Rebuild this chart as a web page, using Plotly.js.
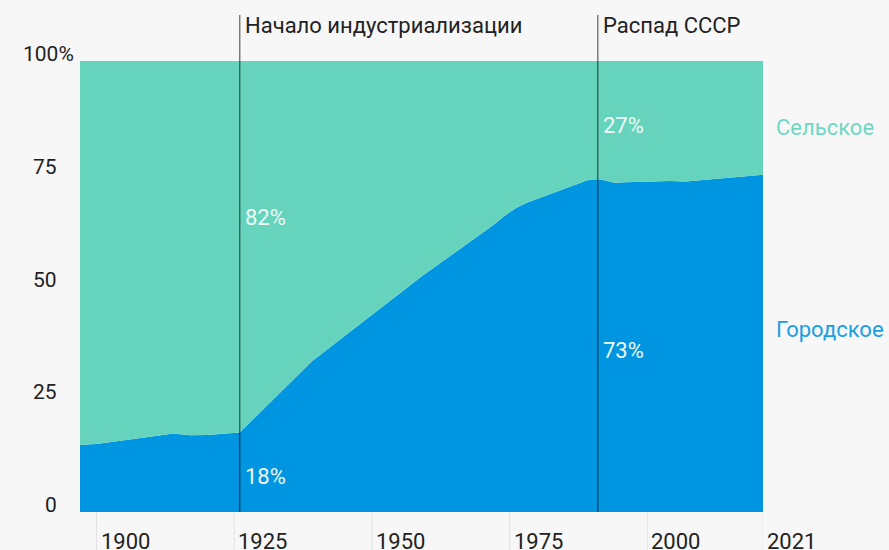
<!DOCTYPE html>
<html>
<head>
<meta charset="utf-8">
<script src="https://cdn.plot.ly/plotly-3.0.1.min.js"></script>
<style>html,body{margin:0;padding:0;background:#f7f7f7;}#chart{width:889px;height:550px;}</style>
</head>
<body>
<div id="chart"></div>
<script>
// Urban share of population, %
const years = [1897, 1900, 1905, 1910, 1914, 1917, 1920, 1926, 1939, 1959, 1965, 1970, 1972, 1974, 1976, 1978, 1980, 1984, 1987, 1989, 1990, 1991, 1992, 1994, 1996, 2000, 2004, 2007, 2010, 2014, 2018, 2021];
const urban = [14.9, 15.1, 15.9, 16.7, 17.4, 17.0, 17.1, 17.6, 33.3, 52.2, 57.4, 61.9, 63.6, 65.6, 67.3, 68.5, 69.4, 71.3, 72.7, 73.5, 73.7, 73.8, 73.6, 73.0, 73.1, 73.2, 73.4, 73.3, 73.6, 74.0, 74.5, 74.8];
const rural = urban.map(v => +(100 - v).toFixed(1));

const xTickVals = [1900, 1925, 1950, 1975, 2000, 2021];
const xTickText = ['1900', '1925', '1950', '1975', '2000', '2021'];
const yTickVals = [0, 25, 50, 75, 100];
const yTickText = ['0', '25', '50', '75', '100%'];

const eventYears = [1926, 1991];
const eventLabels = ['Начало индустриализации', 'Распад СССР'];

const shareLabels = [
  {x: 1926, y: 65.4, text: '82%'},
  {x: 1926, y: 7.9, text: '18%'},
  {x: 1991, y: 85.6, text: '27%'},
  {x: 1991, y: 35.7, text: '73%'}
];
const seriesNames = ['Городское', 'Сельское'];
const seriesLabelY = [40.4, 85.2];

const BLUE = '#0095E0';
const TEAL = '#66D4BD';
const FONT = 'Roboto, "Noto Sans", sans-serif';
const FS = 22;

const traces = [
  {x: years, y: urban, name: seriesNames[0], type: 'scatter', mode: 'lines', stackgroup: 'one',
   line: {width: 0, color: BLUE}, fillcolor: BLUE, hoverinfo: 'skip'},
  {x: years, y: rural, name: seriesNames[1], type: 'scatter', mode: 'lines', stackgroup: 'one',
   line: {width: 0, color: TEAL}, fillcolor: TEAL, hoverinfo: 'skip'}
];

const annotations = [];
// y tick labels
yTickVals.forEach((v, i) => {
  const t = yTickText[i];
  annotations.push({xref: 'paper', yref: 'y', x: t.endsWith('%') ? -0.006 : -0.031, y: v,
    text: t, showarrow: false, xanchor: 'right', yanchor: 'middle', yshift: 7,
    font: {family: FONT, size: 21, color: '#222'}});
});
// x tick labels
xTickVals.forEach((v, i) => {
  annotations.push({xref: 'x', yref: 'paper', x: v, y: -0.066, text: xTickText[i], showarrow: false,
    xanchor: 'left', yanchor: 'middle', xshift: 2, font: {family: FONT, size: FS, color: '#222'}});
});
// event labels
eventYears.forEach((v, i) => {
  annotations.push({xref: 'x', yref: 'paper', x: v, y: 1.078, text: eventLabels[i], showarrow: false,
    xanchor: 'left', yanchor: 'middle', xshift: 3, font: {family: FONT, size: FS, color: '#222'}});
});
// share labels
shareLabels.forEach(s => {
  annotations.push({xref: 'x', yref: 'y', x: s.x, y: s.y, text: s.text, showarrow: false,
    xanchor: 'left', yanchor: 'middle', xshift: 3, font: {family: FONT, size: FS, color: '#EEF8F5'}});
});
// series labels
annotations.push({xref: 'x', yref: 'y', x: years[years.length - 1], y: seriesLabelY[1], text: seriesNames[1],
  showarrow: false, xanchor: 'left', yanchor: 'middle', xshift: 11, font: {family: FONT, size: FS, color: '#6FD8C4'}});
annotations.push({xref: 'x', yref: 'y', x: years[years.length - 1], y: seriesLabelY[0], text: seriesNames[0],
  showarrow: false, xanchor: 'left', yanchor: 'middle', xshift: 11, font: {family: FONT, size: FS, color: '#1A9FE3'}});

const shapes = [];
xTickVals.forEach(v => {
  shapes.push({type: 'line', xref: 'x', yref: 'paper', x0: v, x1: v, y0: 0, y1: -0.12,
    line: {color: '#E3E3E3', width: 1}, layer: 'below'});
});
eventYears.forEach(v => {
  shapes.push({type: 'line', xref: 'x', yref: 'paper', x0: v, x1: v, y0: 0, y1: 1.102,
    line: {color: 'rgba(0,0,0,0.5)', width: 1.5}, layer: 'above'});
});

const layout = {
  width: 889, height: 550,
  margin: {l: 80, r: 126, t: 61, b: 38},
  paper_bgcolor: '#F7F7F7', plot_bgcolor: '#F7F7F7',
  showlegend: false,
  xaxis: {range: [1897, 2021], showgrid: false, zeroline: false, showline: false, showticklabels: false, ticks: '', fixedrange: true},
  yaxis: {range: [0, 100], showgrid: false, zeroline: false, showline: false, showticklabels: false, ticks: '', fixedrange: true},
  annotations: annotations,
  shapes: shapes,
  font: {family: FONT}
};

Plotly.newPlot('chart', traces, layout, {displayModeBar: false, staticPlot: true});
</script>
</body>
</html>
